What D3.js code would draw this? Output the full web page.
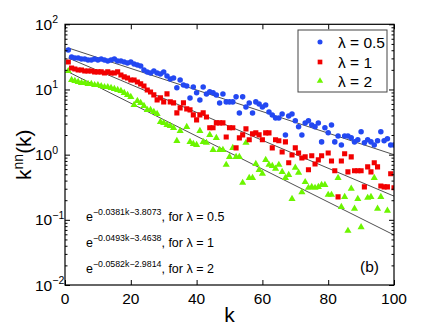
<!DOCTYPE html>
<html><head><meta charset="utf-8">
<script src="https://cdn.jsdelivr.net/npm/d3@7/dist/d3.min.js"></script>
<style>
html,body{margin:0;padding:0;background:#fff;}
text{font-family:"Liberation Sans",Arial,Helvetica,sans-serif;}
</style></head>
<body><svg id="c" width="435" height="327"></svg>
<script>
const kBlue = d3.range(1, 101);
const blueVals = [40.4,31.5,30.5,30.5,29.4,29.4,28.4,28.4,29.4,28.4,
29.4,28.4,27.4,28.4,29.4,27.4,27.4,26.4,25.5,26.4,
24.6,23.8,22.95,19.9,18.6,17.9,19.2,17.9,17.3,18.6,
16.1,14.5,15.0,10.6,14.0,11.7,11.3,7.4,10.9,8.9,
6.9,10.9,8.55,9.2,8.9,8.25,6.2,8.55,6.45,6.45,
6.45,7.7,4.37,7.7,5.4,6.2,4.37,6.45,6.0,5.4,
5.8,4.5,4.07,3.66,3.66,4.2,2.01,3.93,4.2,3.3,
2.67,2.01,3.07,3.3,2.86,2.67,3.07,1.57,2.58,2.16,
2.86,1.57,1.94,1.41,1.94,1.94,1.81,1.57,1.69,2.24,
1.52,1.69,1.57,1.41,1.63,2.24,1.63,1.75,1.41,1.41];

const kRed = [1,2,3,4,5,6,7,8,9,10,11,12,13,14,15,16,17,18,19,20,
21,22,23,24,25,26,27,28,29,30,31,32,33,34,35,36,37,38,39,40,
41,42,43,44,45,46,47,48,49,50,51,52,53,54,55,56,57,58,59,60,
61,62,63,64,65,66,67,68,69,70,71,72,73,74,75,76,77,78,80,
81,82,83,84,85,86,87,88,89,90,91,92,93,94,95,96,97,98,99,100];
const redVals = [26.4,21.4,20.6,19.9,19.9,19.2,19.2,19.2,18.6,18.6,
18.6,17.9,18.6,17.9,17.9,18.6,16.7,15.6,15.0,14.0,
14.0,13.05,12.2,11.3,9.84,9.17,8.25,6.92,7.42,6.45,
8.55,6.45,6.22,4.37,5.22,6.22,5.04,4.86,4.07,3.42,
4.07,4.37,3.79,2.58,2.58,3.07,3.07,3.07,1.87,2.58,
2.58,1.27,1.81,2.01,2.49,1.69,2.08,2.16,2.01,1.69,
2.16,2.16,1.27,1.69,1.63,1.10,1.57,0.75,0.99,1.27,
1.06,0.89,0.925,0.585,0.96,0.72,0.83,0.96,1.06,
0.80,0.565,0.225,0.80,1.03,0.545,0.925,0.565,0.565,0.565,
0.32,0.65,0.545,0.75,0.65,0.33,0.32,0.32,0.51,0.31];

const kGreen = [1,2,3,4,5,6,7,8,9,10,11,12,13,14,15,16,17,18,19,20,
21,22,23,24,25,26,27,28,29,30,31,32,33,34,35,37,38,39,40,
41,42,43,44,45,46,47,48,49,50,51,52,53,54,55,56,57,58,59,60,
61,62,63,64,65,66,67,68,69,70,71,72,73,74,75,76,77,78,79,80,
81,83,84,85,86,87,88,89,90,92,93,94,95,96,98];
const greenVals = [19.2,14.0,13.5,13.05,12.6,12.6,12.2,12.2,11.7,11.7,
11.3,10.9,10.9,10.6,10.2,9.84,9.5,8.85,8.25,7.7,
5.8,6.68,6.22,5.6,4.86,4.86,4.53,4.22,3.18,3.07,
2.86,2.76,2.58,1.63,2.32,2.67,1.57,1.46,1.41,
2.32,1.57,1.52,2.01,1.185,1.81,1.185,1.185,0.70,0.925,
1.27,0.925,0.925,0.37,1.52,0.44,0.44,0.72,0.585,0.51,
0.83,0.70,0.67,0.61,0.70,0.545,0.44,0.49,0.21,0.63,
0.53,0.265,0.38,0.31,0.32,0.31,0.32,0.344,0.344,0.242,
0.242,0.44,0.158,0.225,0.068,0.30,0.148,0.21,0.077,0.218,0.225,0.44,0.148,0.225,0.138];

const fitA = [-0.0381, -0.0493, -0.0582];
const fitB = [3.8073, 3.4638, 2.9814];
const fitK = [1, 100];
const seriesNames = ["λ = 0.5", "λ = 1", "λ = 2"];
const fitExps = ["−0.0381k−3.8073", "−0.0493k−3.4638", "−0.0582k−2.9814"];
const xTicks = [0, 20, 40, 60, 80, 100];
const yTicks = [0.01, 0.1, 1, 10, 100];
const yTickExp = ["−2", "−1", "0", "1", "2"];

const svg = d3.select("#c");
const L = 65, R = 394, T = 24.3, B = 285;
const x = d3.scaleLinear().domain([0, 100]).range([L, R]);
const y = d3.scaleLog().domain([0.01, 100]).range([B, T]);

const colors = ["#2348f2", "#f20000", "#6cf500"];
const symbols = [d3.symbolCircle, d3.symbolSquare, d3.symbolTriangle];
const sizes = [24, 26, 22];

// clip
svg.append("defs").append("clipPath").attr("id","clip")
  .append("rect").attr("x",L).attr("y",T).attr("width",R-L).attr("height",B-T);

// fit lines
const g = svg.append("g").attr("clip-path","url(#clip)");
fitA.forEach((a,i)=>{
  const line = d3.line().x(d=>x(d)).y(d=>y(Math.exp(a*d + fitB[i])));
  g.append("path").attr("d", line(fitK)).attr("fill","none")
   .attr("stroke","#222").attr("stroke-width",0.8);
});

// data
const data = [
  kBlue.map((k,i)=>[k, blueVals[i]]),
  kRed.map((k,i)=>[k, redVals[i]]),
  kGreen.map((k,i)=>[k, greenVals[i]])
];
[2,1,0].forEach(si=>{
  g.append("g").selectAll("path").data(data[si]).join("path")
   .attr("transform", d=>`translate(${x(d[0])},${y(d[1])})`)
   .attr("d", d3.symbol().type(symbols[si]).size(sizes[si])())
   .attr("fill", colors[si]);
});

// axes
const axB = d3.axisBottom(x).tickValues(xTicks).tickSize(-5).tickFormat("");
const axT = d3.axisTop(x).tickValues(xTicks).tickSize(-5).tickFormat("");
const minor = [];
[0.01,0.1,1,10].forEach(d=>{ for(let m=2;m<=9;m++) minor.push(d*m); });
const axL = d3.axisLeft(y).tickValues(yTicks).tickSize(-5).tickFormat("");
const axR = d3.axisRight(y).tickValues(yTicks).tickSize(-5).tickFormat("");
const axLm = d3.axisLeft(y).tickValues(minor).tickSize(-2.5).tickFormat("");
const axRm = d3.axisRight(y).tickValues(minor).tickSize(-2.5).tickFormat("");
function draw(ax, tr){
  const a = svg.append("g").attr("transform", tr).call(ax);
  a.select(".domain").remove();
  a.selectAll("line").attr("stroke","#000").attr("stroke-width",1);
}
draw(axB, `translate(0,${B})`);
draw(axT, `translate(0,${T})`);
draw(axL, `translate(${L},0)`);
draw(axR, `translate(${R},0)`);
draw(axLm, `translate(${L},0)`);
draw(axRm, `translate(${R},0)`);
svg.append("rect").attr("x",L).attr("y",T).attr("width",R-L).attr("height",B-T)
  .attr("fill","none").attr("stroke","#000").attr("stroke-width",1.2);

// x tick labels
svg.append("g").selectAll("text").data(xTicks).join("text")
  .attr("x", d=>x(d)).attr("y", 303.5).attr("text-anchor","middle")
  .attr("font-size", 15.5).text(d=>d);
// y tick labels
yTicks.forEach((d,i)=>{
  const t = svg.append("text").attr("x", 35).attr("y", y(d)+5.5).attr("font-size",15.5);
  t.append("tspan").text("10");
  t.append("tspan").attr("dy",-6.5).attr("font-size",10.5).text(yTickExp[i]);
});
// axis titles
svg.append("text").attr("x", (L+R)/2).attr("y", 322).attr("text-anchor","middle")
  .attr("font-size", 21).text("k");
const yl = svg.append("text").attr("transform", `translate(31,${(T+B)/2}) rotate(-90)`)
  .attr("text-anchor","middle").attr("font-size",21);
yl.append("tspan").text("k");
yl.append("tspan").attr("dy",-8).attr("font-size",14).text("nn");
yl.append("tspan").attr("dy",8).text("(k)");

// legend
svg.append("rect").attr("x",298).attr("y",30).attr("width",89).attr("height",62)
  .attr("fill","#fff").attr("stroke","#444").attr("stroke-width",1);
const legY = [42, 62, 81];
seriesNames.forEach((n,i)=>{
  svg.append("path").attr("transform",`translate(320,${legY[i]})`)
    .attr("d", d3.symbol().type(symbols[i]).size(sizes[i]-4)()).attr("fill", colors[i]);
  svg.append("text").attr("x",338).attr("y",legY[i]+5.5).attr("font-size",15.5).text(n);
});

// fit annotations
const annY = [221, 247, 273];
fitExps.forEach((e,i)=>{
  const t = svg.append("text").attr("x",86).attr("y",annY[i]).attr("font-size",12.5);
  t.append("tspan").text("e");
  t.append("tspan").attr("dy",-6).attr("font-size",8.8).text(e);
  t.append("tspan").attr("dy",6).text(", for " + seriesNames[i]);
});
svg.append("text").attr("x",360).attr("y",272).attr("font-size",15.5).text("(b)");
</script></body></html>
